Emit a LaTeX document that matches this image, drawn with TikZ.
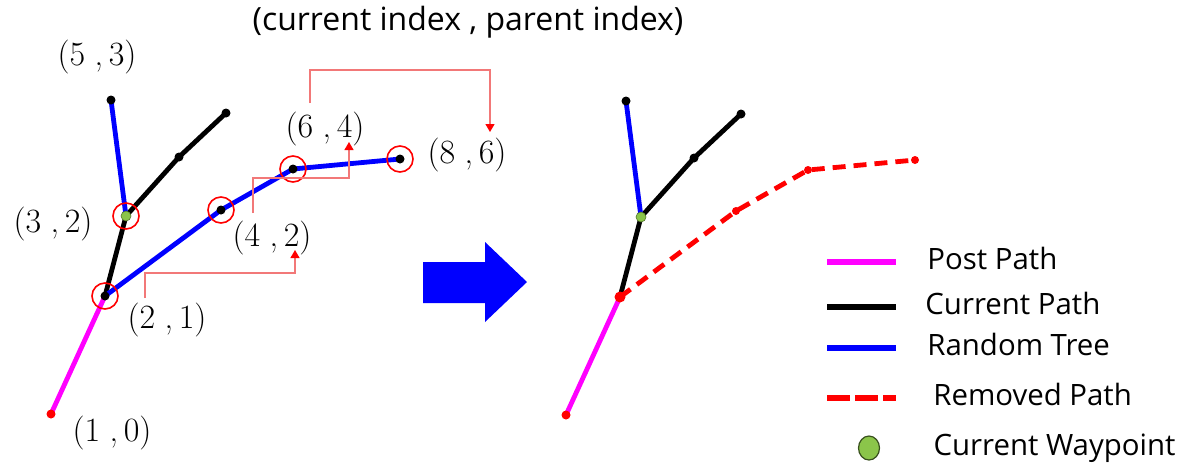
\documentclass[tikz,border=0pt]{standalone}
\usepackage{fontspec}
\setsansfont{Open Sans}
\usetikzlibrary{arrows.meta,positioning,shapes.geometric}
\definecolor{postpink}{RGB}{255,0,255}
\definecolor{treeblue}{RGB}{0,0,255}
\definecolor{wpgreen}{RGB}{139,197,74}
\definecolor{linkred}{RGB}{242,120,120}

\begin{document}
\begin{tikzpicture}[x=0.5pt, y=-0.5pt, >=latex,
  dot/.style={circle, fill=black, inner sep=0pt, minimum size=4.5pt},
  reddot/.style={dot, fill=red},
  wpdot/.style={circle, fill=wpgreen, draw=wpgreen!60!black, line width=0.3pt, inner sep=0pt, minimum size=5pt},
  ring/.style={circle, draw=red, line width=0.8pt, inner sep=0pt, minimum size=13pt},
  post/.style={postpink, line width=2.4pt},
  cur/.style={black, line width=2.4pt},
  rtree/.style={treeblue, line width=2.4pt},
  removed/.style={red, line width=2.4pt, dash pattern=on 6.5pt off 4pt},
  link/.style={linkred, line width=0.6pt, -{Triangle[length=4pt,width=4.5pt,color=red,fill=red]}},
  idx/.style={font=\fontsize{17}{19}\selectfont, inner sep=0pt},
  legtxt/.style={font=\sffamily\fontsize{14.7}{17}\selectfont, inner sep=0pt, text height=0.72em, text depth=0pt}
]

\useasboundingbox (0,0) rectangle (1178,468);

% ==========================================
% Waypoints (before)
% ==========================================
\coordinate (p10) at (51,414);
\coordinate (p21) at (105,296);
\coordinate (p32) at (126,216);
\coordinate (p53) at (111,100);
\coordinate (pc1) at (179,157);
\coordinate (pc2) at (226,113);
\coordinate (p42) at (221,210);
\coordinate (p64) at (293,169);
\coordinate (p86) at (400,159);

% Paths
\draw[post] (p10) -- (p21);
\draw[cur] (p21) -- (p32) -- (pc1) -- (pc2);
\draw[rtree] (p32) -- (p53);
\draw[rtree] (p21) -- (p42) -- (p64) -- (p86);

% Dots
\node[reddot] (d10) at (p10) {};
\node[dot] (d21) at (p21) {};
\node[dot] (d53) at (p53) {};
\node[dot] (dc1) at (pc1) {};
\node[dot] (dc2) at (pc2) {};
\node[dot] (d42) at (p42) {};
\node[dot] (d64) at (p64) {};
\node[dot] (d86) at (p86) {};
\node[wpdot] (d32) at (p32) {};

% Rings
\node[ring] (r21) at (p21) {};
\node[ring] (r32) at (p32) {};
\node[ring] (r42) at (p42) {};
\node[ring] (r64) at (p64) {};
\node[ring] (r86) at (p86) {};

% Index labels
\node[idx] (l53) at (97,57)  {(5\;,\,3)};
\node[idx] (l32) at (53,224) {(3\;,\,2)};
\node[idx] (l21) at (167,320) {(2\;,\,1)};
\node[idx] (l10) at (112,433) {(1\;,\,0)};
\node[idx] (l42) at (272,238) {(4\;,\,2)};
\node[idx] (l64) at (325,129) {(6\;,\,4)};
\node[idx] (l86) at (467,155) {(8\;,\,6)};

\node[font=\sffamily\fontsize{16}{18}\selectfont] (title) at (468,22) {(current index , parent index)};

% ==========================================
% Parent links
% ==========================================
\coordinate (s21) at (145,298);
\coordinate (e21) at (295,250);
\draw[link] (s21) -- ++(0,-25) -| (e21);

\coordinate (s42) at (253,213);
\coordinate (e42) at (349,142);
\draw[link] (s42) -- ++(0,-35) -| (e42);

\coordinate (s64) at (310,103);
\coordinate (e64) at (490,132);
\draw[link] (s64) -- ++(0,-33) -| (e64);

% Big arrow
\fill[treeblue] (423,262) -- (485,262) -- (485,242) -- (527,282) -- (485,322) -- (485,303) -- (423,303) -- cycle;

% ==========================================
% Waypoints (after)
% ==========================================
\begin{scope}[shift={(515,1)}]
\coordinate (q10) at (51,414);
\coordinate (q21) at (105,296);
\coordinate (q32) at (126,216);
\coordinate (q53) at (111,100);
\coordinate (qc1) at (179,157);
\coordinate (qc2) at (226,113);
\coordinate (q42) at (221,210);
\coordinate (q64) at (293,169);
\coordinate (q86) at (400,159);

\draw[post] (q10) -- (q21);
\draw[cur] (q21) -- (q32) -- (qc1) -- (qc2);
\draw[rtree] (q32) -- (q53);
\draw[removed] (q21) -- (q42) -- (q64) -- (q86);

\node[reddot] (e10) at (q10) {};
\node[reddot, minimum size=5.5pt] (e21n) at (q21) {};
\node[dot] (e53) at (q53) {};
\node[dot] (ec1) at (qc1) {};
\node[dot] (ec2) at (qc2) {};
\node[reddot, minimum size=4pt] (e42n) at (q42) {};
\node[reddot, minimum size=4pt] (e64n) at (q64) {};
\node[reddot, minimum size=4pt] (e86n) at (q86) {};
\node[wpdot] (e32) at (q32) {};
\end{scope}

% ==========================================
% Legend
% ==========================================
\coordinate (k1a) at (827,262); \coordinate (k1b) at (896,262);
\coordinate (k2a) at (827,307); \coordinate (k2b) at (896,307);
\coordinate (k3a) at (827,348); \coordinate (k3b) at (896,348);
\coordinate (k4a) at (827,398); \coordinate (k4b) at (896,398);

\draw[post, line width=3.2pt] (k1a) -- (k1b);
\draw[cur, line width=3.2pt] (k2a) -- (k2b);
\draw[rtree, line width=3.2pt] (k3a) -- (k3b);
\draw[red, line width=3.2pt, dash pattern=on 11.5pt off 2.5pt] (k4a) -- (k4b);
\node[ellipse, fill=wpgreen, draw=wpgreen!40!black, line width=0.6pt, inner sep=0pt, minimum width=10.5pt, minimum height=12pt] (k5) at (869,448) {};

\node[legtxt, right=15.5pt of k1b] (t1) {Post Path};
\node[legtxt, right=14.5pt of k2b] (t2) {Current Path};
\node[legtxt, right=15.5pt of k3b] (t3) {Random Tree};
\node[legtxt, right=18.5pt of k4b] (t4) {Removed Path};
\node[legtxt, right=26.5pt of k5] (t5) {Current Waypoint};

\end{tikzpicture}
\end{document}
